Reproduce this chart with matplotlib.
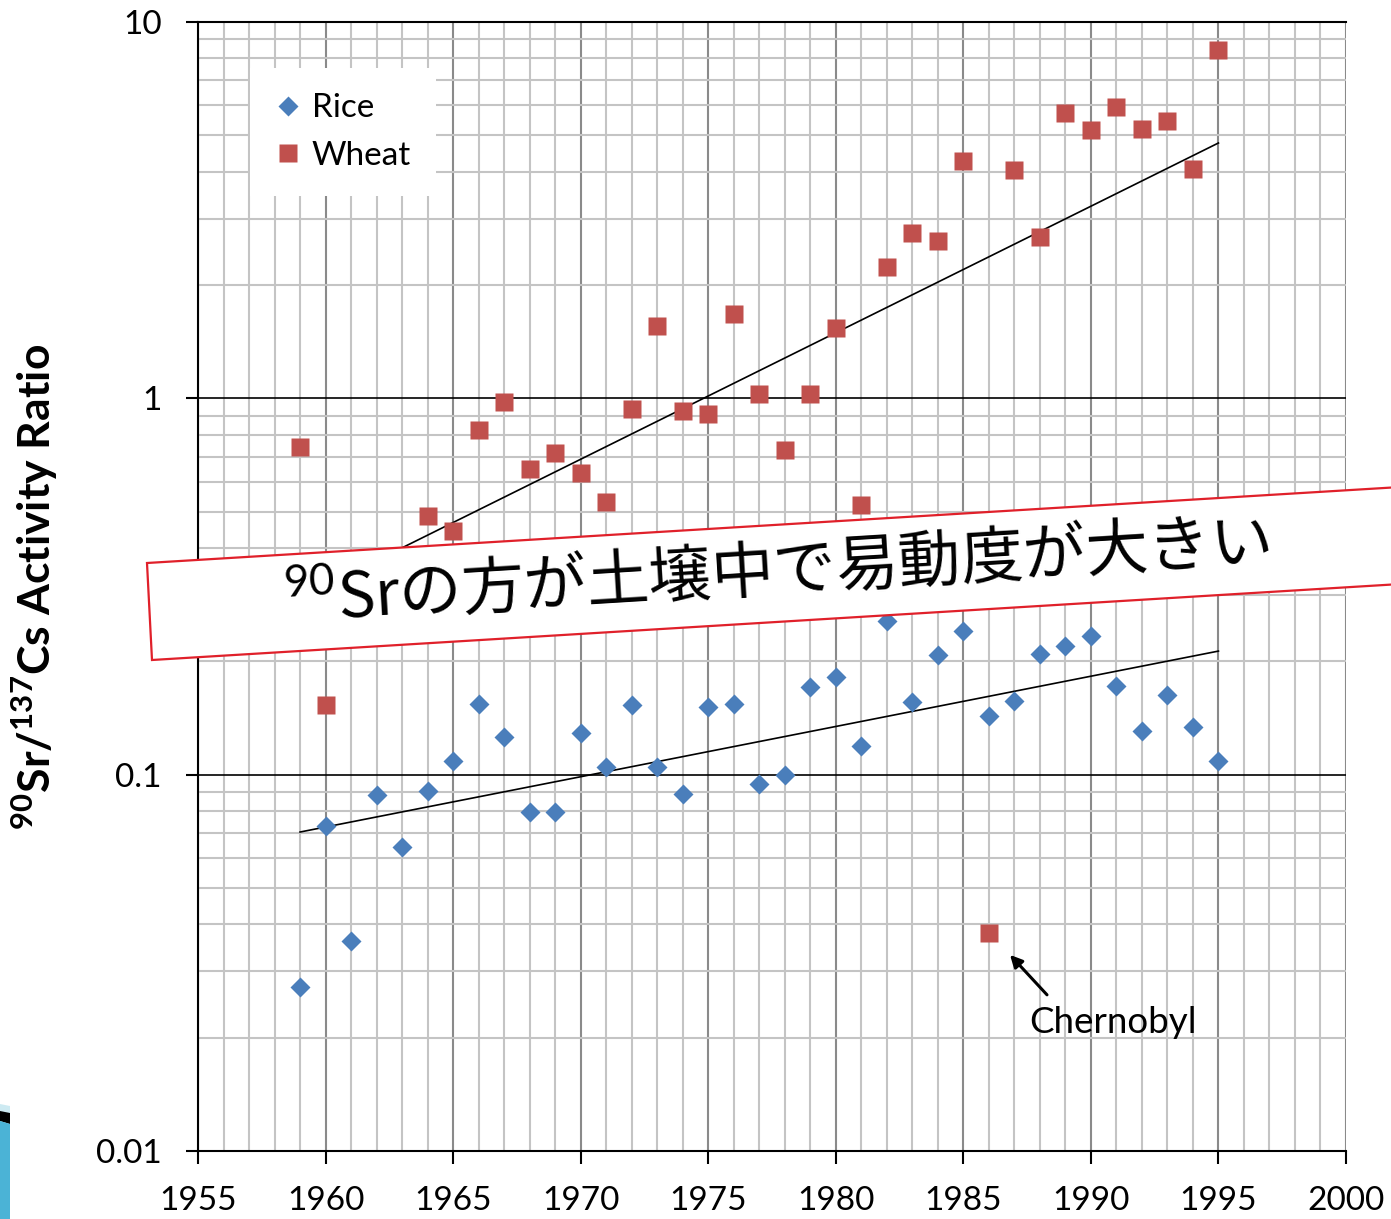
import numpy as np
import matplotlib
matplotlib.use("Agg")
import matplotlib.pyplot as plt
from matplotlib.ticker import MultipleLocator, FixedLocator, NullFormatter, FixedFormatter
from matplotlib.patches import Polygon

plt.rcParams["mathtext.fontset"] = "custom"
plt.rcParams["mathtext.rm"] = "Lato"
plt.rcParams["mathtext.bf"] = "Lato:bold"
plt.rcParams["font.family"] = ["Lato", "DejaVu Sans"]

# ---- data ---------------------------------------------------------------
rice_years = list(range(1959, 1996))
rice_ratio = [0.0273, 0.0730, 0.0361, 0.0883, 0.0642, 0.0904, 0.109, 0.154,
              0.126, 0.0796, 0.0798, 0.129, 0.105, 0.153, 0.105, 0.0888,
              0.151, 0.154, 0.0944, 0.100, 0.171, 0.182, 0.119, 0.256,
              0.156, 0.208, 0.241, 0.143, 0.157, 0.209, 0.220, 0.234,
              0.172, 0.131, 0.163, 0.134, 0.109]

wheat_years = [1959, 1960] + list(range(1964, 1996))
wheat_ratio = [0.742, 0.153, 0.487, 0.444, 0.824, 0.978, 0.649, 0.716,
               0.633, 0.530, 0.937, 1.556, 0.925, 0.908, 1.675, 1.027,
               0.729, 1.027, 1.537, 0.520, 2.23, 2.75, 2.62, 4.27,
               0.0379, 4.04, 2.68, 5.73, 5.16, 5.94, 5.19, 5.46, 4.07, 8.42]

trend_years = [1959, 1995]
wheat_trend = [0.294, 4.77]
rice_trend = [0.0704, 0.213]

x_ticks = [1955, 1960, 1965, 1970, 1975, 1980, 1985, 1990, 1995, 2000]
y_ticks = [0.01, 0.1, 1, 10]
y_tick_labels = ["0.01", "0.1", "1", "10"]

W, H = 1391, 1219
fig = plt.figure(figsize=(W / 100, H / 100), dpi=100)
ax = fig.add_axes([198 / W, 1 - 1151 / H, (1346 - 198) / W, (1151 - 22) / H])

ax.set_yscale("log")
ax.set_xlim(1955, 2000)
ax.set_ylim(0.01, 10)

# grid: yearly / sub-decade light lines, 5-year and decade lines stronger
ax.xaxis.set_major_locator(FixedLocator(x_ticks))
ax.xaxis.set_minor_locator(MultipleLocator(1))
ax.yaxis.set_major_locator(FixedLocator(y_ticks))
ax.yaxis.set_major_formatter(FixedFormatter(y_tick_labels))
minor_y = [m * 10.0 ** e for e in (-2, -1, 0) for m in range(2, 10)]
ax.yaxis.set_minor_locator(FixedLocator(minor_y))
ax.yaxis.set_minor_formatter(NullFormatter())

ax.grid(which="minor", axis="both", color="#C4C4C4", lw=1.5, zorder=0)
ax.grid(which="major", axis="x", color="#8A8A8A", lw=1.5, zorder=0)
ax.grid(which="major", axis="y", color="black", lw=1.2, zorder=0)
ax.set_axisbelow(True)

ax.tick_params(which="minor", length=0)
ax.tick_params(which="major", direction="out", length=9, width=1.5,
               labelsize=24, color="black")
ax.tick_params(axis="y", pad=17)
ax.tick_params(axis="x", pad=16)

for side in ("left", "bottom", "top"):
    ax.spines[side].set_linewidth(1.5)
    ax.spines[side].set_color("black")
ax.spines["right"].set_visible(False)

# trend lines
ax.plot(trend_years, wheat_trend, color="black", lw=1.2, zorder=2)
ax.plot(trend_years, rice_trend, color="black", lw=1.2, zorder=2)

# observations
ax.plot(rice_years, rice_ratio, ls="none", marker="D", ms=9.7,
        color="#4A7EBB", mec="none", label="Rice", zorder=3, clip_on=False)
ax.plot(wheat_years, wheat_ratio, ls="none", marker="s", ms=13.5,
        color="#C0504D", mec="none", label="Wheat", zorder=3, clip_on=False)

leg = ax.legend(loc="upper left", bbox_to_anchor=(0.0453, 0.959),
                borderaxespad=0, fontsize=24, frameon=True, fancybox=False,
                borderpad=0.75, handlelength=0.8, handletextpad=0.3,
                labelspacing=0.53)
leg.get_frame().set_facecolor("white")
leg.get_frame().set_edgecolor("none")
leg.get_frame().set_alpha(1)

ax.set_ylabel(r"$^{\mathbf{90}}$Sr/$^{\mathbf{137}}$Cs Activity Ratio",
              fontsize=32, fontweight="bold")
ax.yaxis.set_label_coords(-0.12, 0.5)

# Chernobyl callout
ax.annotate("", xy=(1986.83, 0.0332), xytext=(1988.28, 0.0260),
            arrowprops=dict(arrowstyle="-|>", color="black", lw=2.2,
                            mutation_scale=18, shrinkA=0, shrinkB=0))
ax.text(1990.87, 0.0206, "Chernobyl", fontsize=26.5, ha="center",
        va="baseline")


def fpos(px, py):
    return (px / W, 1 - py / H)


# banner across the plot
banner = Polygon([fpos(147, 563), fpos(152, 660), fpos(1450, 581),
                  fpos(1450, 484)], closed=True, transform=fig.transFigure,
                 facecolor="white", edgecolor="#E0202A", lw=1.6, zorder=10)
fig.add_artist(banner)
fig.text(*fpos(777, 573), r"$^{90}$Srの方が土壌中で易動度が大きい",
         family=["Noto Sans CJK JP"], fontsize=45, rotation=3.5,
         rotation_mode="anchor", ha="center", va="center", zorder=11)

# slide decoration at lower-left corner
fig.add_artist(Polygon([fpos(0, 1104), fpos(10, 1106), fpos(10, 1219),
                        fpos(0, 1219)], transform=fig.transFigure,
                       facecolor="#CDEAF2", edgecolor="none", zorder=5))
fig.add_artist(Polygon([fpos(0, 1111), fpos(10, 1113), fpos(10, 1124),
                        fpos(0, 1121)], transform=fig.transFigure,
                       facecolor="black", edgecolor="none", zorder=6))
fig.add_artist(Polygon([fpos(0, 1121), fpos(10, 1124), fpos(10, 1219),
                        fpos(0, 1219)], transform=fig.transFigure,
                       facecolor="#4BB3D6", edgecolor="none", zorder=6))

fig.savefig("out.png", dpi=100)
